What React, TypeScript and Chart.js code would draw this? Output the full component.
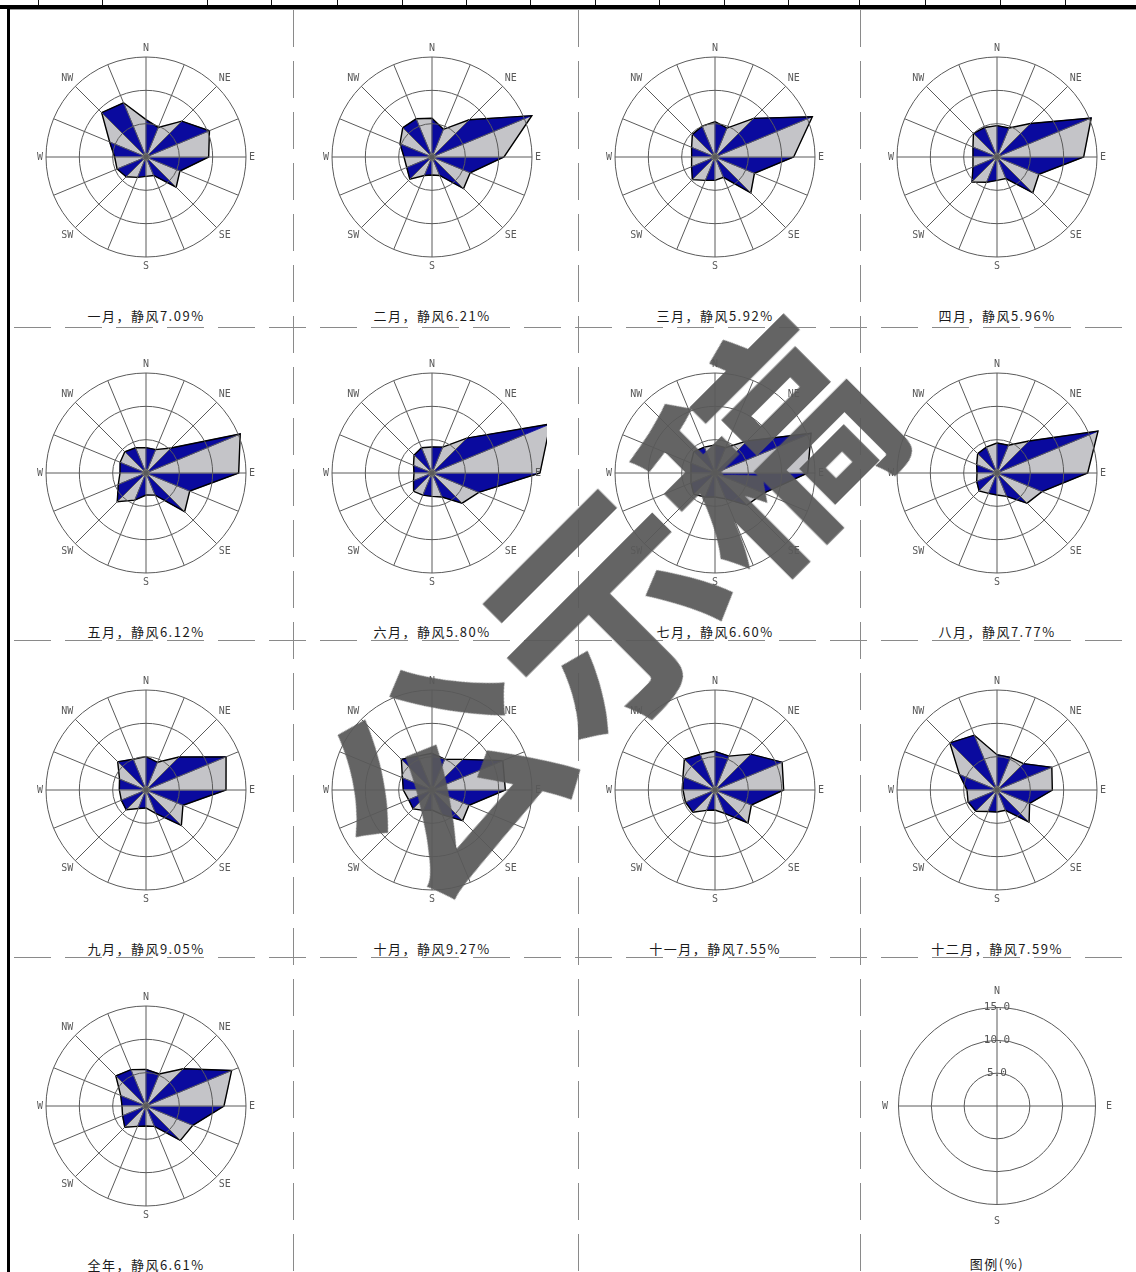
import React, { useEffect, useRef } from "react";
import { Chart, registerables } from "chart.js";

Chart.register(...registerables);

// 16 compass sectors, clockwise from north
const directions = ["N", "NNE", "NE", "ENE", "E", "ESE", "SE", "SSE", "S", "SSW", "SW", "WSW", "W", "WNW", "NW", "NNW"];
const axisLabels = ["N", "", "NE", "", "E", "", "SE", "", "S", "", "SW", "", "W", "", "NW", ""];
const legendAxisLabels = ["N", "E", "S", "W"];
const legendRings = [0, 0, 0, 0];

// wind direction frequency (%) per sector
const janFreq = [5.6, 4.8, 7.6, 10.3, 9.4, 5.5, 6.4, 3.0, 2.9, 3.3, 4.2, 4.7, 4.7, 5.9, 9.4, 8.8];
const febFreq = [5.8, 4.5, 7.9, 16.2, 10.8, 6.2, 6.7, 3.0, 2.7, 3.0, 4.7, 4.1, 4.2, 5.2, 6.2, 6.2];
const marFreq = [5.3, 4.7, 8.2, 15.8, 11.8, 6.4, 7.6, 3.3, 3.5, 3.8, 4.8, 3.8, 3.5, 3.8, 4.8, 5.0];
const aprFreq = [4.7, 4.7, 7.1, 15.3, 13.0, 6.8, 7.6, 3.5, 3.5, 4.1, 5.3, 3.9, 3.6, 3.9, 5.0, 4.8];
const mayFreq = [3.8, 3.8, 5.3, 15.3, 13.9, 7.1, 8.2, 3.6, 3.3, 4.4, 6.1, 4.5, 3.9, 4.2, 4.5, 4.1];
const junFreq = [3.9, 4.2, 7.4, 19.2, 16.2, 7.6, 6.4, 3.9, 3.5, 3.6, 3.9, 3.0, 2.7, 3.0, 3.8, 4.1];
const julFreq = [4.2, 4.1, 6.8, 15.6, 13.9, 7.9, 6.8, 4.2, 3.6, 3.9, 4.5, 3.9, 3.6, 3.9, 4.5, 4.2];
const augFreq = [4.5, 4.5, 6.8, 16.4, 13.6, 7.3, 6.4, 3.8, 3.3, 3.3, 3.8, 3.3, 3.0, 3.3, 4.1, 4.2];
const sepFreq = [5.0, 4.5, 7.0, 13.0, 12.0, 6.0, 7.5, 3.8, 2.7, 3.0, 4.2, 4.0, 4.0, 4.3, 6.0, 5.0];
const octFreq = [5.5, 5.0, 6.5, 11.5, 11.0, 6.0, 6.5, 4.0, 3.0, 3.3, 4.0, 3.8, 4.3, 4.8, 6.5, 5.5];
const novFreq = [5.8, 5.5, 7.6, 10.9, 10.3, 5.9, 7.0, 3.8, 3.0, 3.3, 4.7, 4.8, 4.8, 5.2, 6.5, 5.8];
const decFreq = [5.3, 5.3, 5.6, 8.9, 8.3, 5.3, 6.8, 3.3, 3.3, 3.5, 4.5, 4.7, 4.5, 6.1, 10.0, 8.9];
const yearFreq = [5.5, 5.2, 7.9, 13.9, 11.7, 7.6, 7.3, 3.3, 3.0, 3.3, 4.5, 3.8, 3.6, 4.1, 6.4, 5.9];

const periodNames = ["一月", "二月", "三月", "四月", "五月", "六月", "七月", "八月", "九月", "十月", "十一月", "十二月", "全年"];
const calmPercent = [7.09, 6.21, 5.92, 5.96, 6.12, 5.8, 6.6, 7.77, 9.05, 9.27, 7.55, 7.59, 6.61];
const periodFreq = [janFreq, febFreq, marFreq, aprFreq, mayFreq, junFreq, julFreq, augFreq, sepFreq, octFreq, novFreq, decFreq, yearFreq];

const scaleMax = 15;
const ringStep = 5;
const legendTitle = "图例(%)";
const watermarkText = "公示稿";

const BLUE = "#0a0a9e";
const SILVER = "#c4c4c8";
const GRID = "#5a5a5a";
const LABEL_FONT = '"DejaVu Sans Mono", monospace';
const TEXT_FONT = '"Noto Sans CJK SC", "Noto Sans", sans-serif';

const COL_X = [146, 432, 715, 997];
const ROW_Y = [157, 473, 790, 1106];
const TITLE_DY = 159;
const ROSE_BOX = 230;
const LEGEND_BOX = 242;

function pointLabelOptions() {
  return {
    display: true,
    padding: 3,
    color: "#5a5a5a",
    font: { family: LABEL_FONT, size: 10, lineHeight: 1.2 },
  };
}

function Rose({ values, cx, cy }: { values: number[]; cx: number; cy: number }) {
  const ref = useRef<HTMLCanvasElement | null>(null);
  useEffect(() => {
    if (!ref.current) return;
    const datasets: any[] = [];
    // hub dot
    datasets.push({
      data: values.map(() => 0),
      showLine: false,
      borderWidth: 0,
      pointRadius: (c: any) => (c.dataIndex === 0 ? 4 : 0),
      pointBackgroundColor: "#8a8a8a",
      pointBorderWidth: 0,
    });
    // outline of the rose
    datasets.push({
      data: values,
      fill: false,
      borderColor: "#000",
      borderWidth: 1.4,
      pointRadius: 0,
    });
    // alternating wedges between neighbouring sectors
    for (let k = 0; k < values.length; k++) {
      const next = (k + 1) % values.length;
      const color = k % 2 === 0 ? BLUE : SILVER;
      datasets.push({
        data: values.map((v, i) => (i === k || i === next ? v : 0)),
        fill: "origin",
        backgroundColor: color,
        borderColor: color,
        borderWidth: 0.8,
        pointRadius: 0,
      });
    }
    const chart = new Chart(ref.current, {
      type: "radar",
      data: { labels: axisLabels, datasets },
      options: {
        responsive: false,
        animation: false,
        events: [],
        layout: { padding: 0 },
        elements: { line: { tension: 0 } },
        plugins: { legend: { display: false }, tooltip: { enabled: false } },
        scales: {
          r: {
            min: 0,
            max: scaleMax,
            ticks: { stepSize: ringStep, display: false },
            grid: { circular: true, color: GRID, lineWidth: 1, z: 1 },
            angleLines: { display: true, color: GRID, lineWidth: 1 },
            pointLabels: pointLabelOptions(),
          },
        },
      },
    } as any);
    return () => chart.destroy();
  }, [values]);
  return (
    <canvas
      ref={ref}
      width={ROSE_BOX}
      height={ROSE_BOX}
      style={{ position: "absolute", left: cx - ROSE_BOX / 2, top: cy - ROSE_BOX / 2, width: ROSE_BOX, height: ROSE_BOX }}
    />
  );
}

function LegendRose({ cx, cy }: { cx: number; cy: number }) {
  const ref = useRef<HTMLCanvasElement | null>(null);
  useEffect(() => {
    if (!ref.current) return;
    const chart = new Chart(ref.current, {
      type: "radar",
      data: {
        labels: legendAxisLabels,
        datasets: [{ data: legendRings, borderWidth: 0, pointRadius: 0, fill: false }],
      },
      options: {
        responsive: false,
        animation: false,
        events: [],
        plugins: { legend: { display: false }, tooltip: { enabled: false } },
        scales: {
          r: {
            min: 0,
            max: scaleMax,
            ticks: {
              stepSize: ringStep,
              display: true,
              showLabelBackdrop: false,
              color: "#555",
              font: { family: LABEL_FONT, size: 11 },
              callback: (v: any) => Number(v).toFixed(1),
            },
            grid: { circular: true, color: GRID, lineWidth: 1 },
            angleLines: { display: true, color: GRID, lineWidth: 1 },
            pointLabels: pointLabelOptions(),
          },
        },
      },
    } as any);
    return () => chart.destroy();
  }, []);
  return (
    <canvas
      ref={ref}
      width={LEGEND_BOX}
      height={LEGEND_BOX}
      style={{ position: "absolute", left: cx - LEGEND_BOX / 2, top: cy - LEGEND_BOX / 2, width: LEGEND_BOX, height: LEGEND_BOX }}
    />
  );
}

function Caption({ text, cx, cy }: { text: string; cx: number; cy: number }) {
  return (
    <div
      style={{
        position: "absolute",
        left: cx - 110,
        top: cy - 9,
        width: 220,
        height: 18,
        lineHeight: "18px",
        textAlign: "center",
        fontFamily: TEXT_FONT,
        fontSize: 13,
        letterSpacing: 1.5,
        color: "#1a1a1a",
        whiteSpace: "nowrap",
      }}
    >
      {text}
    </div>
  );
}

const dashV = "repeating-linear-gradient(to bottom, #8a8a8a 0 37px, transparent 37px 51px)";
const dashH = "repeating-linear-gradient(to right, #8a8a8a 0 37px, transparent 37px 51px)";
const headerTicks = [38, 102, 207, 271, 337, 402, 466, 530, 595, 659, 724, 788, 859, 925, 1000, 1065];
const splitX = [293, 578, 860];
const splitY = [327, 640, 957];

export default function App() {
  return (
    <div
      style={{
        position: "absolute",
        left: 0,
        top: 0,
        width: 1136,
        height: 1272,
        background: "#fff",
        overflow: "hidden",
      }}
    >
      {/* table frame */}
      {headerTicks.map((x) => (
        <div key={"t" + x} style={{ position: "absolute", left: x, top: 0, width: 1, height: 6, background: "#111" }} />
      ))}
      <div style={{ position: "absolute", left: 0, top: 5, width: 1136, height: 4, background: "#000" }} />
      <div style={{ position: "absolute", left: 8, top: 9, width: 1128, height: 1, background: "#999" }} />
      <div style={{ position: "absolute", left: 7, top: 8, width: 3, height: 1264, background: "#000" }} />
      {splitX.map((x) => (
        <div key={"v" + x} style={{ position: "absolute", left: x, top: 10, width: 1, height: 1262, backgroundImage: dashV }} />
      ))}
      {splitY.map((y) => (
        <div key={"h" + y} style={{ position: "absolute", left: 14, top: y, width: 1122, height: 1, backgroundImage: dashH }} />
      ))}

      {periodFreq.map((vals, i) => {
        const cx = COL_X[i % 4];
        const cy = ROW_Y[Math.floor(i / 4)];
        return (
          <React.Fragment key={periodNames[i]}>
            <Rose values={vals} cx={cx} cy={cy} />
            <Caption text={`${periodNames[i]}，静风${calmPercent[i].toFixed(2)}%`} cx={cx} cy={cy + TITLE_DY} />
          </React.Fragment>
        );
      })}

      <LegendRose cx={COL_X[3]} cy={ROW_Y[3]} />
      <Caption text={legendTitle} cx={COL_X[3]} cy={ROW_Y[3] + TITLE_DY - 1} />

      <div
        style={{
          position: "absolute",
          left: 597,
          top: 603,
          transform: "translate(-50%, -50%) rotate(-45deg)",
          fontFamily: TEXT_FONT,
          fontSize: 230,
          fontWeight: 700,
          lineHeight: 1,
          color: "rgba(88,88,88,0.93)",
          whiteSpace: "nowrap",
          pointerEvents: "none",
        }}
      >
        {watermarkText}
      </div>
    </div>
  );
}
